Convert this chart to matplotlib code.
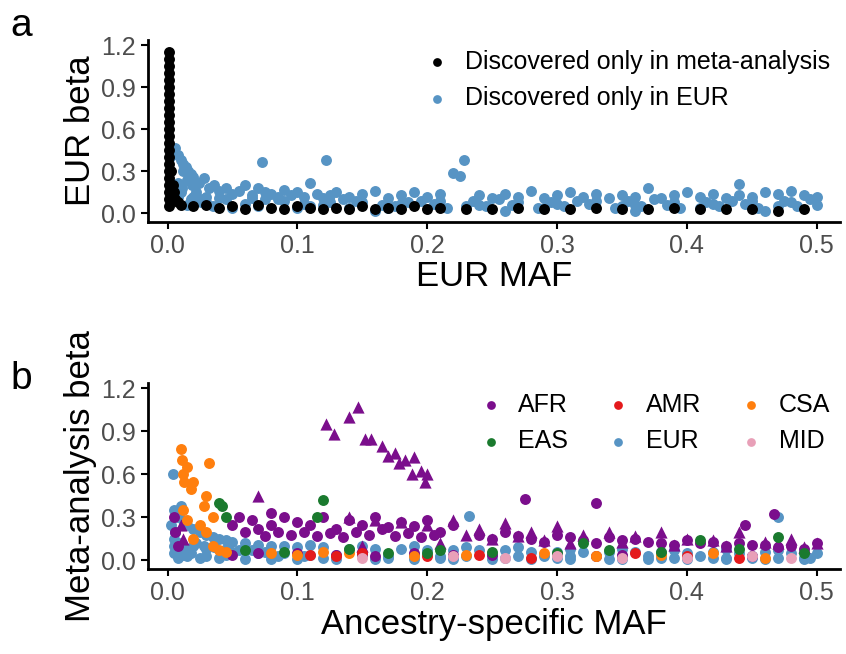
import matplotlib.pyplot as plt

plt.rcParams['font.family'] = ['Liberation Sans', 'DejaVu Sans']

# ---- panel a data ----
eur_only_x = [0.002, 0.004, 0.006, 0.008, 0.010, 0.012, 0.014, 0.016, 0.018, 0.020,
              0.005, 0.008, 0.011, 0.015, 0.019, 0.024, 0.028, 0.032, 0.036, 0.040,
              0.012, 0.022, 0.030, 0.045, 0.050, 0.055, 0.060, 0.065, 0.070, 0.075,
              0.080, 0.085, 0.090, 0.095, 0.100, 0.105, 0.110, 0.115, 0.120, 0.125,
              0.130, 0.140, 0.150, 0.160, 0.170, 0.180, 0.190, 0.200, 0.210, 0.220,
              0.228, 0.240, 0.250, 0.260, 0.270, 0.280, 0.290, 0.300, 0.310, 0.320,
              0.330, 0.340, 0.350, 0.360, 0.370, 0.380, 0.390, 0.400, 0.410, 0.420,
              0.430, 0.440, 0.450, 0.460, 0.470, 0.480, 0.490, 0.500, 0.073, 0.122,
              0.03, 0.06, 0.09, 0.12, 0.15, 0.18, 0.21, 0.24, 0.27, 0.30,
              0.33, 0.36, 0.39, 0.42, 0.45, 0.48, 0.05, 0.11, 0.17, 0.23,
              0.29, 0.35, 0.41, 0.47, 0.025, 0.075, 0.135, 0.195, 0.255, 0.315,
              0.375, 0.435, 0.495, 0.16, 0.26, 0.36, 0.46, 0.44, 0.225, 0.02,
              0.015, 0.035, 0.045, 0.065, 0.085, 0.105, 0.125, 0.145, 0.165, 0.185,
              0.205, 0.235, 0.265, 0.295, 0.325, 0.355, 0.385, 0.415, 0.445, 0.475,
              0.010, 0.040, 0.070, 0.100, 0.140, 0.175, 0.215, 0.245, 0.285, 0.305,
              0.345, 0.365, 0.395, 0.425, 0.455, 0.485, 0.500, 0.008, 0.018, 0.026]
eur_only_y = [0.40, 0.45, 0.47, 0.42, 0.38, 0.35, 0.33, 0.30, 0.28, 0.26,
              0.20, 0.22, 0.18, 0.24, 0.20, 0.22, 0.25, 0.18, 0.20, 0.16,
              0.30, 0.15, 0.12, 0.18, 0.14, 0.16, 0.20, 0.13, 0.18, 0.15,
              0.14, 0.12, 0.17, 0.13, 0.15, 0.12, 0.22, 0.14, 0.11, 0.13,
              0.15, 0.12, 0.14, 0.16, 0.11, 0.13, 0.15, 0.12, 0.14, 0.29,
              0.38, 0.13, 0.11, 0.14, 0.12, 0.16, 0.11, 0.13, 0.15, 0.12,
              0.14, 0.11, 0.13, 0.12, 0.18, 0.11, 0.13, 0.15, 0.12, 0.14,
              0.11, 0.13, 0.12, 0.15, 0.14, 0.16, 0.13, 0.12, 0.37, 0.38,
              0.08, 0.07, 0.09, 0.06, 0.08, 0.07, 0.09, 0.06, 0.08, 0.07,
              0.09, 0.06, 0.08, 0.07, 0.09, 0.08, 0.04, 0.05, 0.04, 0.05,
              0.04, 0.05, 0.04, 0.05, 0.10, 0.10, 0.10, 0.09, 0.10, 0.09,
              0.10, 0.09, 0.10, 0.02, 0.02, 0.02, 0.02, 0.21, 0.27, 0.12,
              0.06, 0.05, 0.10, 0.11, 0.10, 0.07, 0.08, 0.09, 0.06, 0.08,
              0.07, 0.09, 0.06, 0.08, 0.07, 0.09, 0.06, 0.08, 0.07, 0.09,
              0.15, 0.11, 0.05, 0.04, 0.04, 0.05, 0.04, 0.05, 0.04, 0.05,
              0.04, 0.05, 0.04, 0.05, 0.04, 0.05, 0.06, 0.12, 0.10, 0.08]

meta_only_x = [0.001] * 23 + [0.003, 0.004, 0.005, 0.006, 0.008, 0.010,
               0.02, 0.03, 0.04, 0.05, 0.06, 0.07, 0.08, 0.09, 0.10, 0.11, 0.12,
               0.13, 0.14, 0.15, 0.16, 0.17, 0.18, 0.19, 0.20, 0.21, 0.23,
               0.25, 0.27, 0.29, 0.31, 0.33, 0.35, 0.37, 0.39, 0.41, 0.43,
               0.45, 0.47, 0.49]
meta_only_y = [1.15, 1.10, 1.05, 1.00, 0.95, 0.90, 0.85, 0.80, 0.75, 0.70, 0.65,
               0.60, 0.55, 0.50, 0.45, 0.40, 0.35, 0.30, 0.25, 0.20, 0.15, 0.10, 0.05,
               0.30, 0.20, 0.15, 0.10, 0.08, 0.06,
               0.05, 0.06, 0.04, 0.05, 0.03, 0.06, 0.04, 0.03, 0.05, 0.04, 0.03,
               0.04, 0.03, 0.05, 0.03, 0.04, 0.03, 0.05, 0.03, 0.04, 0.03,
               0.03, 0.04, 0.03, 0.03, 0.04, 0.03, 0.03, 0.04, 0.03, 0.03,
               0.03, 0.02, 0.03]

# ---- panel b data ----
eur_x = [0.005, 0.007, 0.010, 0.012, 0.015, 0.020, 0.025, 0.030, 0.035, 0.040,
         0.045, 0.050, 0.060, 0.070, 0.080, 0.090, 0.100, 0.120, 0.140, 0.160,
         0.180, 0.200, 0.220, 0.240, 0.260, 0.280, 0.300, 0.320, 0.340, 0.360,
         0.380, 0.400, 0.420, 0.440, 0.460, 0.480, 0.500, 0.005, 0.010, 0.020,
         0.030, 0.050, 0.070, 0.090, 0.110, 0.130, 0.150, 0.170, 0.190, 0.210,
         0.230, 0.250, 0.270, 0.290, 0.310, 0.330, 0.350, 0.370, 0.390, 0.410,
         0.430, 0.450, 0.470, 0.490, 0.005, 0.008, 0.015, 0.025, 0.040, 0.060,
         0.080, 0.100, 0.130, 0.160, 0.190, 0.220, 0.250, 0.280, 0.310, 0.340,
         0.370, 0.400, 0.430, 0.460, 0.490, 0.004, 0.003, 0.006, 0.008, 0.470,
         0.232, 0.010, 0.015, 0.022, 0.028, 0.036, 0.045, 0.055, 0.065, 0.075,
         0.110, 0.150, 0.190, 0.230, 0.270, 0.310, 0.350, 0.390, 0.430, 0.470,
         0.120, 0.170, 0.210, 0.260, 0.300, 0.350, 0.380, 0.420, 0.450, 0.495,
         0.005, 0.006, 0.007, 0.009, 0.012, 0.018, 0.030, 0.045, 0.085, 0.105]
eur_y = [0.35, 0.30, 0.38, 0.28, 0.25, 0.22, 0.20, 0.18, 0.16, 0.15,
         0.14, 0.13, 0.12, 0.11, 0.10, 0.10, 0.09, 0.09, 0.08, 0.08,
         0.08, 0.07, 0.07, 0.07, 0.07, 0.06, 0.06, 0.06, 0.06, 0.06,
         0.06, 0.05, 0.06, 0.05, 0.06, 0.05, 0.05, 0.15, 0.12, 0.10,
         0.08, 0.06, 0.05, 0.05, 0.04, 0.04, 0.04, 0.03, 0.04, 0.03,
         0.03, 0.04, 0.03, 0.03, 0.03, 0.03, 0.03, 0.03, 0.02, 0.03,
         0.02, 0.03, 0.02, 0.02, 0.05, 0.02, 0.03, 0.02, 0.02, 0.01,
         0.01, 0.01, 0.01, 0.01, 0.01, 0.01, 0.01, 0.01, 0.01, 0.01,
         0.01, 0.01, 0.01, 0.01, 0.01, 0.60, 0.25, 0.20, 0.10, 0.30,
         0.31, 0.06, 0.08, 0.12, 0.10, 0.09, 0.08, 0.07, 0.07, 0.06,
         0.11, 0.10, 0.10, 0.09, 0.09, 0.08, 0.08, 0.07, 0.08, 0.07,
         0.02, 0.02, 0.02, 0.02, 0.02, 0.01, 0.02, 0.02, 0.02, 0.02,
         0.10, 0.20, 0.06, 0.03, 0.04, 0.05, 0.03, 0.04, 0.03, 0.03]

afr_x = [0.005, 0.006, 0.008, 0.050, 0.055, 0.060, 0.065, 0.070, 0.080, 0.090,
         0.100, 0.110, 0.120, 0.130, 0.140, 0.150, 0.160, 0.170, 0.180, 0.190,
         0.200, 0.210, 0.220, 0.240, 0.260, 0.280, 0.300, 0.320, 0.340, 0.360,
         0.380, 0.400, 0.420, 0.440, 0.460, 0.480, 0.500, 0.095, 0.105, 0.115,
         0.125, 0.135, 0.145, 0.155, 0.165, 0.175, 0.185, 0.195, 0.205, 0.250,
         0.270, 0.290, 0.310, 0.330, 0.350, 0.370, 0.390, 0.410, 0.430, 0.450,
         0.470, 0.490, 0.150, 0.250, 0.350, 0.450, 0.275, 0.445, 0.467, 0.330,
         0.050, 0.070, 0.100, 0.130, 0.160, 0.190, 0.220, 0.080, 0.075, 0.085]
afr_y = [0.30, 0.20, 0.10, 0.25, 0.30, 0.20, 0.28, 0.22, 0.25, 0.30,
         0.27, 0.25, 0.30, 0.22, 0.28, 0.25, 0.30, 0.23, 0.27, 0.24,
         0.28, 0.20, 0.25, 0.18, 0.20, 0.15, 0.18, 0.14, 0.16, 0.15,
         0.12, 0.14, 0.13, 0.12, 0.11, 0.10, 0.12, 0.18, 0.20, 0.17,
         0.19, 0.16, 0.20, 0.18, 0.22, 0.17, 0.19, 0.16, 0.18, 0.15,
         0.17, 0.13, 0.16, 0.12, 0.14, 0.13, 0.11, 0.12, 0.10, 0.11,
         0.09, 0.08, 0.05, 0.04, 0.04, 0.03, 0.43, 0.25, 0.32, 0.40,
         0.04, 0.05, 0.05, 0.04, 0.03, 0.05, 0.04, 0.33, 0.17, 0.20]
afr_tri_x = [0.122, 0.128, 0.147, 0.140, 0.152, 0.157, 0.170, 0.175, 0.178, 0.183,
             0.190, 0.195, 0.200, 0.165, 0.188, 0.198, 0.010, 0.012, 0.070, 0.140,
             0.160, 0.180, 0.200, 0.220, 0.240, 0.260, 0.280, 0.300, 0.320, 0.340,
             0.360, 0.380, 0.400, 0.420, 0.440, 0.460, 0.480, 0.500, 0.150, 0.210,
             0.230, 0.250, 0.270, 0.290, 0.310, 0.350, 0.390, 0.430, 0.470, 0.490]
afr_tri_y = [0.95, 0.88, 1.07, 1.00, 0.85, 0.85, 0.73, 0.75, 0.68, 0.70,
             0.72, 0.62, 0.60, 0.80, 0.60, 0.55, 0.25, 0.15, 0.45, 0.30,
             0.28, 0.27, 0.25, 0.28, 0.22, 0.26, 0.20, 0.24, 0.18, 0.20,
             0.17, 0.20, 0.15, 0.14, 0.20, 0.13, 0.15, 0.12, 0.10, 0.12,
             0.18, 0.15, 0.17, 0.14, 0.12, 0.13, 0.11, 0.10, 0.12, 0.09]
amr_x = [0.110, 0.130, 0.150, 0.200, 0.240, 0.280, 0.330, 0.360, 0.400, 0.440]
amr_y = [0.04, 0.03, 0.05, 0.03, 0.04, 0.02, 0.03, 0.05, 0.03, 0.02]
csa_x = [0.010, 0.011, 0.012, 0.013, 0.015, 0.018, 0.020, 0.028, 0.030, 0.032,
         0.035, 0.025, 0.030, 0.012, 0.015, 0.020, 0.040, 0.080, 0.100, 0.120,
         0.140, 0.190, 0.230, 0.290, 0.330, 0.380, 0.420, 0.460, 0.035, 0.045]
csa_y = [0.78, 0.70, 0.60, 0.55, 0.65, 0.50, 0.55, 0.38, 0.45, 0.68,
         0.30, 0.25, 0.20, 0.35, 0.28, 0.15, 0.07, 0.05, 0.04, 0.06,
         0.05, 0.03, 0.04, 0.05, 0.03, 0.04, 0.05, 0.02, 0.10, 0.06]
eas_x = [0.040, 0.042, 0.045, 0.115, 0.120, 0.090, 0.140, 0.170, 0.210, 0.250,
         0.300, 0.340, 0.380, 0.410, 0.440, 0.470, 0.490, 0.060, 0.200, 0.320]
eas_y = [0.40, 0.38, 0.30, 0.30, 0.42, 0.06, 0.08, 0.05, 0.07, 0.06,
         0.05, 0.07, 0.06, 0.14, 0.08, 0.16, 0.05, 0.07, 0.05, 0.12]
mid_x = [0.150, 0.220, 0.260, 0.300, 0.350, 0.400, 0.450, 0.480]
mid_y = [0.02, 0.03, 0.02, 0.03, 0.02, 0.02, 0.03, 0.02]

BLUE = "#5794c4"
PURPLE = "#7b0e8c"
S = 62

fig = plt.figure(figsize=(8.46, 6.54), dpi=100)
ax_a = fig.add_axes([0.175, 0.661, 0.818, 0.278])
ax_b = fig.add_axes([0.175, 0.130, 0.818, 0.285])

ax_a.scatter(eur_only_x, eur_only_y, s=S, color=BLUE, lw=0, label="Discovered only in EUR", zorder=2)
ax_a.scatter(meta_only_x, meta_only_y, s=S, color="black", lw=0,
             label="Discovered only in meta-analysis", zorder=3)

ax_b.scatter(eur_x, eur_y, s=S, color=BLUE, lw=0, label="EUR", zorder=2)
ax_b.scatter(afr_x, afr_y, s=S, color=PURPLE, lw=0, label="AFR", zorder=3)
ax_b.scatter(afr_tri_x, afr_tri_y, s=S + 15, color=PURPLE, marker="^", lw=0, zorder=3)
ax_b.scatter(amr_x, amr_y, s=S, color="#e41a1c", lw=0, label="AMR", zorder=4)
ax_b.scatter(csa_x, csa_y, s=S, color="#ff7f0e", lw=0, label="CSA", zorder=4)
ax_b.scatter(eas_x, eas_y, s=S, color="#1a7a2e", lw=0, label="EAS", zorder=4)
ax_b.scatter(mid_x, mid_y, s=S, color="#e8a0b8", lw=0, label="MID", zorder=4)

for ax, ylab, xlab in [(ax_a, "EUR beta", "EUR MAF"),
                       (ax_b, "Meta-analysis beta", "Ancestry-specific MAF")]:
    ax.set_xlim(-0.015, 0.518)
    ax.set_ylim(-0.06, 1.24)
    ax.set_xticks([0, 0.1, 0.2, 0.3, 0.4, 0.5])
    ax.set_yticks([0, 0.3, 0.6, 0.9, 1.2])
    ax.set_xticklabels(["0.0", "0.1", "0.2", "0.3", "0.4", "0.5"])
    ax.set_yticklabels(["0.0", "0.3", "0.6", "0.9", "1.2"])
    for side in ["top", "right"]:
        ax.spines[side].set_visible(False)
    for side in ["left", "bottom"]:
        ax.spines[side].set_linewidth(2)
    ax.tick_params(labelsize=18, labelcolor="#4d4d4d", width=1.5, length=5)
    ax.set_xlabel(xlab, fontsize=25, labelpad=2)
    ax.set_ylabel(ylab, fontsize=25, labelpad=3)

h, l = ax_a.get_legend_handles_labels()
ax_a.legend(h[::-1], l[::-1], loc="upper right", frameon=False, fontsize=18,
            handletextpad=0.1, markerscale=0.8, borderaxespad=0.0)
h, l = ax_b.get_legend_handles_labels()
order = [l.index(n) for n in ["AFR", "EAS", "AMR", "EUR", "CSA", "MID"]]
ax_b.legend([h[i] for i in order], [l[i] for i in order], loc="upper right", ncol=3,
            frameon=False, fontsize=18, handletextpad=0.1, columnspacing=1.0,
            markerscale=0.8, borderaxespad=0.0)

fig.text(0.012, 0.945, "a", fontsize=28)
fig.text(0.012, 0.405, "b", fontsize=28)

fig.savefig("out.png", dpi=100)
